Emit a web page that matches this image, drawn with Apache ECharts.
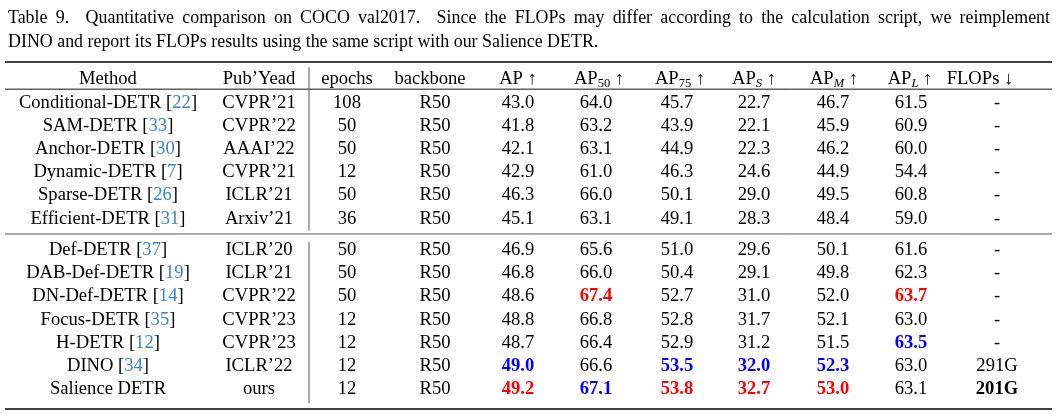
<!DOCTYPE html>
<html>
<head>
<meta charset="utf-8">
<script src="https://cdn.jsdelivr.net/npm/echarts@6/dist/echarts.min.js"></script>
<style>
    html, body { margin: 0; padding: 0; background: #fff; }
    #chart { width: 1062px; height: 417px; }
</style>
</head>
<body>
<div id="chart"></div>
<script>
// table data
const captionLine1 = 'Table 9.  Quantitative comparison on COCO val2017.  Since the FLOPs may differ according to the calculation script, we reimplement';
const captionLine2 = 'DINO and report its FLOPs results using the same script with our Salience DETR.';
const headers = ['Method', 'Pub\u2019Yead', 'epochs', 'backbone', 'AP \u2191', 'AP{s|50} \u2191', 'AP{s|75} \u2191', 'AP{si|S} \u2191', 'AP{si|M} \u2191', 'AP{si|L} \u2191', 'FLOPs \u2193'];
const methods = ['Conditional-DETR', 'SAM-DETR', 'Anchor-DETR', 'Dynamic-DETR', 'Sparse-DETR', 'Efficient-DETR',
    'Def-DETR', 'DAB-Def-DETR', 'DN-Def-DETR', 'Focus-DETR', 'H-DETR', 'DINO', 'Salience DETR'];
const refs = ['22', '33', '30', '7', '26', '31', '37', '19', '14', '35', '12', '34', ''];
const venues = ['CVPR\u201921', 'CVPR\u201922', 'AAAI\u201922', 'CVPR\u201921', 'ICLR\u201921', 'Arxiv\u201921',
    'ICLR\u201920', 'ICLR\u201921', 'CVPR\u201922', 'CVPR\u201923', 'CVPR\u201923', 'ICLR\u201922', 'ours'];
const epochs = [108, 50, 50, 12, 50, 36, 50, 50, 50, 12, 12, 12, 12];
const backbones = ['R50', 'R50', 'R50', 'R50', 'R50', 'R50', 'R50', 'R50', 'R50', 'R50', 'R50', 'R50', 'R50'];
const ap   = [43.0, 41.8, 42.1, 42.9, 46.3, 45.1, 46.9, 46.8, 48.6, 48.8, 48.7, 49.0, 49.2];
const ap50 = [64.0, 63.2, 63.1, 61.0, 66.0, 63.1, 65.6, 66.0, 67.4, 66.8, 66.4, 66.6, 67.1];
const ap75 = [45.7, 43.9, 44.9, 46.3, 50.1, 49.1, 51.0, 50.4, 52.7, 52.8, 52.9, 53.5, 53.8];
const apS  = [22.7, 22.1, 22.3, 24.6, 29.0, 28.3, 29.6, 29.1, 31.0, 31.7, 31.2, 32.0, 32.7];
const apM  = [46.7, 45.9, 46.2, 44.9, 49.5, 48.4, 50.1, 49.8, 52.0, 52.1, 51.5, 52.3, 53.0];
const apL  = [61.5, 60.9, 60.0, 54.4, 60.8, 59.0, 61.6, 62.3, 63.7, 63.0, 63.5, 63.0, 63.1];
const flops = ['-', '-', '-', '-', '-', '-', '-', '-', '-', '-', '-', '291G', '201G'];
const group1Size = 6;

// layout (x in px from table left, y in row units)
const bodyX = [103, 254, 342, 430, 513, 591, 672, 749, 828, 906, 992];
const headX = [103, 254, 342, 425, 513, 594, 675, 749, 829, 905, 975];
const groupGap = 0.35;
const FONT = 'Liberation Serif';
const CAPTION_SIZE = 17.9;
const RED = '#ff0000', BLUE = '#0000ff', REF = '#3d84c6';

function rowY(i) {
    return i < group1Size ? i + 1 : i + 1 + groupGap;
}

// best (red) and second best (blue) inside the second group
function marks(values) {
    let grp = values.slice(group1Size);
    let sorted = [...grp].sort((a, b) => b - a);
    return values.map((v, i) => {
        if (i < group1Size) return null;
        if (v === sorted[0]) return RED;
        if (v === sorted[1]) return BLUE;
        return null;
    });
}

let cells = [];
headers.forEach((h, c) => cells.push({x: headX[c], y: 0, text: h}));
methods.forEach((m, i) => {
    let t = refs[i] ? m + ' [{r|' + refs[i] + '}]' : m;
    cells.push({x: bodyX[0], y: rowY(i), text: t});
    cells.push({x: bodyX[1], y: rowY(i), text: venues[i]});
    cells.push({x: bodyX[2], y: rowY(i), text: String(epochs[i])});
    cells.push({x: bodyX[3], y: rowY(i), text: backbones[i]});
});
[ap, ap50, ap75, apS, apM, apL].forEach((col, k) => {
    let m = marks(col);
    col.forEach((v, i) => {
        cells.push({x: bodyX[4 + k], y: rowY(i), text: v.toFixed(1), color: m[i], bold: !!m[i]});
    });
});
let minFlops = Math.min(...flops.filter(f => f !== '-').map(f => parseFloat(f)));
flops.forEach((f, i) => {
    cells.push({x: bodyX[10], y: rowY(i), text: f, bold: parseFloat(f) === minFlops});
});

// rules: [x1, y1, x2, y2, width, color]
const rules = [
    [0, -0.75, 1047, -0.75, 1.6, '#000'],
    [0, 0.42, 1047, 0.42, 1, '#111'],
    [0, 6.66, 1047, 6.66, 1, '#555'],
    [0, 14.2, 1047, 14.2, 1.6, '#000'],
    [304, -0.53, 304, 6.52, 1, '#555'],
    [304, 7.0, 304, 13.95, 1, '#555']
];

// justified first caption line, like the LaTeX caption
function justifyLine(text, left, right, y) {
    let ctx = document.createElement('canvas').getContext('2d');
    ctx.font = CAPTION_SIZE + 'px "' + FONT + '"';
    let parts = text.split(/( +)/);
    let words = [], weights = [];
    for (let i = 0; i < parts.length; i += 2) {
        words.push(parts[i]);
        if (i + 1 < parts.length) weights.push(parts[i + 1].length);
    }
    let wordsW = words.reduce((s, w) => s + ctx.measureText(w).width, 0);
    let unit = (right - left - wordsW) / weights.reduce((s, w) => s + w, 0);
    let x = left;
    let els = [];
    words.forEach((w, i) => {
        els.push({
            type: 'text', x: x, y: y, silent: true,
            style: {text: w, fontFamily: FONT, fontSize: CAPTION_SIZE, fill: '#000', verticalAlign: 'middle'}
        });
        x += ctx.measureText(w).width + (i < weights.length ? weights[i] * unit : 0);
    });
    return els;
}

let chart = echarts.init(document.getElementById('chart'));
let option = {
    animation: false,
    graphic: justifyLine(captionLine1, 8, 1050, 18).concat([{
        type: 'text', x: 8, y: 42, silent: true,
        style: {text: captionLine2, fontFamily: FONT, fontSize: CAPTION_SIZE, fill: '#000', verticalAlign: 'middle'}
    }]),
    grid: {
        left: 5,
        right: 10,
        top: 62,
        bottom: 8
    },
    xAxis: {
        type: 'value',
        min: 0,
        max: 1047,
        show: false
    },
    yAxis: {
        type: 'value',
        inverse: true,
        min: -0.75,
        max: 14.2,
        show: false
    },
    series: [
        {
            type: 'custom',
            silent: true,
            data: rules.map((r, i) => [r[0], r[1], r[2], r[3], i]),
            renderItem: function (params, api) {
                let p1 = api.coord([api.value(0), api.value(1)]);
                let p2 = api.coord([api.value(2), api.value(3)]);
                let r = rules[api.value(4)];
                return {
                    type: 'line',
                    shape: {x1: p1[0], y1: p1[1], x2: p2[0], y2: p2[1]},
                    style: {stroke: r[5], lineWidth: r[4]}
                };
            }
        },
        {
            type: 'custom',
            silent: true,
            data: cells.map((c, i) => [c.x, c.y, i]),
            renderItem: function (params, api) {
                let c = cells[api.value(2)];
                let p = api.coord([api.value(0), api.value(1)]);
                return {
                    type: 'text',
                    style: {
                        text: c.text,
                        x: p[0],
                        y: p[1],
                        align: 'center',
                        verticalAlign: 'middle',
                        fontFamily: FONT,
                        fontSize: 18.6,
                        fontWeight: c.bold ? 'bold' : 'normal',
                        lineHeight: 22,
                        fill: c.color || '#000',
                        rich: {
                            r: {fill: REF, color: REF, fontFamily: FONT, fontSize: 18.6, lineHeight: 22},
                            s: {fontFamily: FONT, fontSize: 12.5, lineHeight: 13, verticalAlign: 'bottom'},
                            si: {fontFamily: FONT, fontSize: 12.5, fontStyle: 'italic', lineHeight: 13, verticalAlign: 'bottom'}
                        }
                    }
                };
            }
        }
    ]
};
chart.setOption(option);
</script>
</body>
</html>
